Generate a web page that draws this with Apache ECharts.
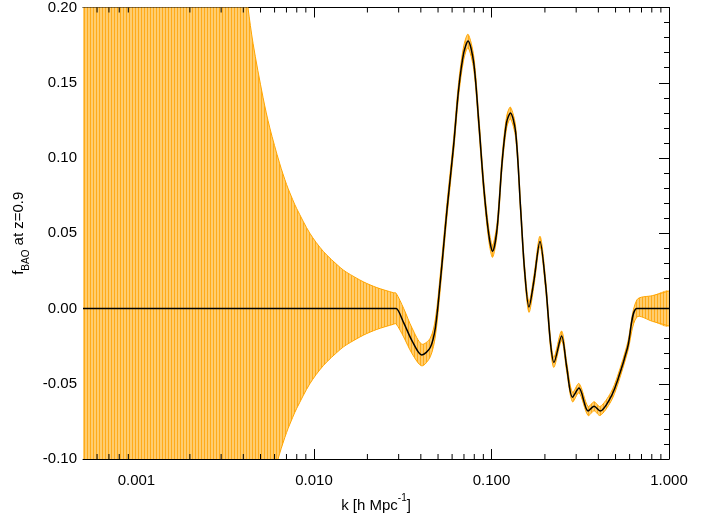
<!DOCTYPE html>
<html><head><meta charset="utf-8">
<script src="https://cdn.jsdelivr.net/npm/echarts@6/dist/echarts.min.js"></script>
<style>html,body{margin:0;padding:0;background:#fff}#c{width:713px;height:518px}</style>
</head><body><div id="c"></div>
<script>
// wavenumber k [h/Mpc]
const kValues = [0.0005,0.0020,0.0032,0.0038,0.00425,0.00454,0.00517,0.00564,0.00640,0.00701,0.00759,0.00800,0.00948,0.01128,0.01403,0.01530,0.01900,0.02260,0.02800,0.02900,
0.03200,0.03570,0.04050,0.04520,0.04830,0.05150,0.05380,0.05620,0.06120,0.06530,0.06980,0.07380,0.07940,0.08480,0.09060,0.09660,0.10140,0.10760,0.11480,0.12170,0.12790,0.13680,0.14590,0.15350,0.16260,0.17330,0.18760,0.20180,0.21530,0.22480,0.24830,0.26550,0.28580,0.31120,0.34990,0.37840,0.40930,0.47000,0.51300,0.58440,0.65900,0.81000,1.00000];
// f_BAO at z=0.9
const fValues = [0,0,0,0,0,0,0,0,0,0,0,0,0,0,0,0,0,0,0,0,
-0.0094,-0.0215,-0.0309,-0.0259,-0.0127,0.0180,0.0420,0.0660,0.1084,0.1457,0.1700,0.1777,0.1634,0.1238,0.0797,0.0490,0.0380,0.0533,0.0974,0.1238,0.1299,0.1172,0.0665,0.0259,0.0010,0.0182,0.0446,0.0160,-0.0236,-0.0358,-0.0182,-0.0391,-0.0589,-0.0529,-0.0681,-0.0650,-0.0681,-0.0589,-0.0479,-0.0259,0.0000,0.0000,0.0000];
// 1-sigma error
const sigmaValues = [1.5,0.88,0.343,0.247,0.200,0.176,0.140,0.120,0.0966,0.0824,0.0723,0.0663,0.0500,0.0380,0.0273,0.0240,0.0177,0.0139,0.0105,0.0102,
0.0095,0.0085,0.0072,0.0062,0.0056,0.0050,0.0048,0.0046,0.0045,0.0045,0.0045,0.0045,0.0044,0.0043,0.0042,0.0041,0.0040,0.0040,0.0040,0.0039,0.0039,0.0038,0.0037,0.0036,0.0035,0.0035,0.0034,0.0034,0.0033,0.0033,0.0032,0.0032,0.0031,0.0031,0.0030,0.0030,0.0030,0.0030,0.0030,0.0030,0.0057,0.0086,0.0116];
const xMinorTicks = [0.0006,0.0007,0.0008,0.0009,0.002,0.003,0.004,0.005,0.006,0.007,0.008,0.009,0.02,0.03,0.04,0.05,0.06,0.07,0.08,0.09,0.2,0.3,0.4,0.5,0.6,0.7,0.8,0.9];

const FONT = 'Liberation Sans, Arial, Helvetica, sans-serif';
const ORANGE = '#FFA500';
const SMOOTH = 0.3;

const pc = document.createElement('canvas');
pc.width = 3; pc.height = 4;
const pctx = pc.getContext('2d');
pctx.fillStyle = '#FFCD6E'; pctx.fillRect(0,0,3,4);
pctx.fillStyle = '#FFAB1A'; pctx.fillRect(0,0,1,4);

const lineData = kValues.map((k,i)=>[k, fValues[i]]);

const chart = echarts.init(document.getElementById('c'), null, {renderer:'canvas'});
const xBase = {
  type:'log', logBase:10, min:0.0005, max:1,
  splitLine:{show:false},
  axisLine:{onZero:false, lineStyle:{color:'#000', width:1}},
  axisTick:{inside:true, length:10, lineStyle:{color:'#000'}},
  minorTick:{show:false}
};
const yBase = {
  type:'value', min:-0.1, max:0.2, interval:0.05,
  splitLine:{show:false},
  axisLine:{show:true, onZero:false, lineStyle:{color:'#000', width:1}},
  axisTick:{inside:true, length:10, lineStyle:{color:'#000'}},
  minorTick:{show:true, splitNumber:5, length:5, lineStyle:{color:'#000'}}
};
chart.setOption({
  animation:false,
  backgroundColor:'#fff',
  grid:{left:83, right:44, top:5, bottom:59},
  xAxis:[
    Object.assign({}, xBase, {
      position:'bottom',
      axisLabel:{show:true, showMinLabel:false, margin:14, color:'#000', fontSize:15, fontFamily:FONT,
        formatter:v=>Number(v).toFixed(3)},
      name:'{m|k [h Mpc}{s|-1}{m|]}', nameLocation:'middle', nameGap:33,
      nameTextStyle:{color:'#000', fontFamily:FONT, rich:{
        m:{fontSize:15, color:'#000', fontFamily:FONT, lineHeight:20, verticalAlign:'bottom'},
        s:{fontSize:10, color:'#000', fontFamily:FONT, verticalAlign:'top', lineHeight:20}}}
    }),
    Object.assign({}, xBase, {position:'top', axisLabel:{show:false}})
  ],
  yAxis:[
    Object.assign({}, yBase, {
      position:'left',
      axisLabel:{margin:6, color:'#000', fontSize:15, fontFamily:FONT, formatter:v=>Number(v).toFixed(2)},
      name:'{m|f}{s|BAO}{m| at z=0.9}', nameLocation:'middle', nameGap:52, nameRotate:90,
      nameTextStyle:{color:'#000', fontFamily:FONT, rich:{
        m:{fontSize:15, color:'#000', fontFamily:FONT, lineHeight:20, verticalAlign:'top'},
        s:{fontSize:10, color:'#000', fontFamily:FONT, verticalAlign:'bottom', lineHeight:20}}}
    }),
    Object.assign({}, yBase, {position:'right', axisLabel:{show:false}})
  ],
  series:[
    {type:'custom', name:'band', xAxisIndex:0, yAxisIndex:0, silent:true, clip:true, z:2,
      data:[[kValues[0], 0]],
      renderItem:function(params, api){
        const up = kValues.map((k,i)=>api.coord([k, fValues[i]+sigmaValues[i]]));
        const lo = kValues.map((k,i)=>api.coord([k, fValues[i]-sigmaValues[i]]));
        const poly = up.concat(lo.slice().reverse());
        return {type:'group', children:[
          {type:'polygon', shape:{points:poly, smooth:SMOOTH}, style:{fill:{image:pc, repeat:'repeat'}, stroke:null}},
          {type:'polyline', shape:{points:up, smooth:SMOOTH}, style:{stroke:ORANGE, lineWidth:1, fill:null}},
          {type:'polyline', shape:{points:lo, smooth:SMOOTH}, style:{stroke:ORANGE, lineWidth:1, fill:null}}
        ]};
      }},
    {type:'line', name:'fBAO', data:lineData, smooth:SMOOTH, symbol:'none',
      lineStyle:{color:'#000', width:1.5}, z:3, silent:true},
    {type:'custom', name:'minorTicks', xAxisIndex:0, yAxisIndex:0, silent:true, clip:false, z:5,
      data:xMinorTicks.map(v=>[v, 0]),
      renderItem:function(params, api){
        const v = api.value(0);
        const b = api.coord([v, -0.1]);
        const t = api.coord([v, 0.2]);
        return {type:'group', children:[
          {type:'line', shape:{x1:b[0], y1:b[1], x2:b[0], y2:b[1]-5}, style:{stroke:'#000', lineWidth:1}},
          {type:'line', shape:{x1:t[0], y1:t[1], x2:t[0], y2:t[1]+5}, style:{stroke:'#000', lineWidth:1}}
        ]};
      }}
  ]
});
</script>
</body></html>
